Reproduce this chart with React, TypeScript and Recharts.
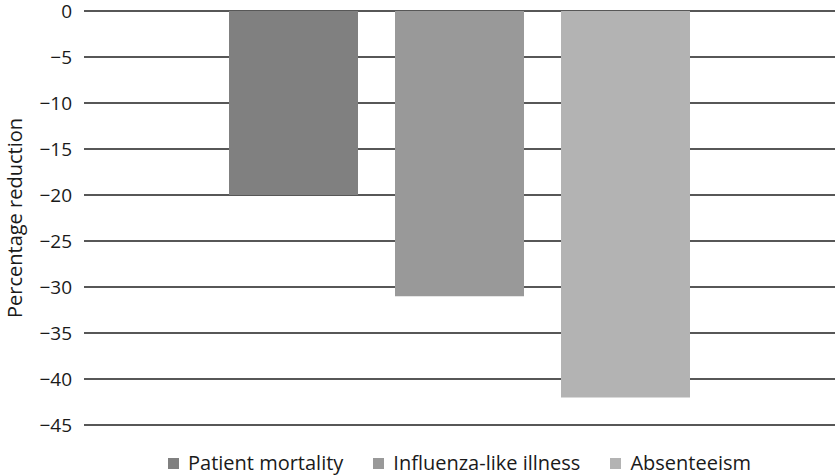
import React from 'react';
import { BarChart, Bar, XAxis, YAxis, CartesianGrid, Legend, Label } from 'recharts';

const seriesNames = ['Patient mortality', 'Influenza-like illness', 'Absenteeism'];
const seriesKeys = ['patient', 'ili', 'absent'];
const seriesValues = [-20, -31, -42];
const seriesColors = ['#808080', '#999999', '#b3b3b3'];
const yTicks = [0, -5, -10, -15, -20, -25, -30, -35, -40, -45];

const row: Record<string, any> = { name: '' };
seriesKeys.forEach((k, i) => {
  row[k] = seriesValues[i];
});
const data = [row];

const FONT = '"Open Sans", sans-serif';

const fmt = (v: number) => (v < 0 ? '\u2212' + Math.abs(v) : String(v));

const LegendContent = () => (
  <div style={{ display: 'flex', justifyContent: 'center', alignItems: 'center', fontFamily: FONT, fontSize: 20, color: '#1a1a1a', height: 27 }}>
    {seriesNames.map((n, i) => (
      <div key={n} style={{ display: 'flex', alignItems: 'center', marginRight: i < seriesNames.length - 1 ? 30 : 0 }}>
        <span style={{ display: 'inline-block', width: 11, height: 11, background: seriesColors[i], marginRight: 9, marginTop: 2 }} />
        <span style={{ lineHeight: '27px', whiteSpace: 'nowrap' }}>{n}</span>
      </div>
    ))}
  </div>
);

const YLabel = (props: any) => {
  const vb = props.viewBox || {};
  const cy = (vb.y || 0) + (vb.height || 0) / 2;
  const cx = 14;
  return (
    <text x={cx} y={cy} transform={`rotate(-90, ${cx}, ${cy})`} textAnchor="middle" dominantBaseline="central" fontFamily={FONT} fontSize={20} fill="#1a1a1a">
      Percentage reduction
    </text>
  );
};

export default function App() {
  return (
    <div style={{ position: 'absolute', left: 0, top: 0, width: 836, height: 476, background: '#fff' }}>
      <BarChart width={836} height={476} data={data} margin={{ top: 11, right: 1, left: 0, bottom: 24 }} barGap={37}>
        <CartesianGrid vertical={false} stroke="#1f1f1f" strokeWidth={1.3} />
        <XAxis dataKey="name" hide />
        <YAxis
          type="number"
          domain={[-45, 0]}
          ticks={yTicks}
          interval={0}
          width={84}
          axisLine={false}
          tickLine={false}
          tickSize={6}
          tickMargin={6}
          tickFormatter={fmt}
          tick={{ fill: '#1a1a1a', fontSize: 19, fontFamily: FONT }}
        >
          <Label content={<YLabel />} />
        </YAxis>
        <Legend
          verticalAlign="bottom"
          content={<LegendContent />}
          wrapperStyle={{ left: 84, width: 751, height: 27, top: 449, bottom: 'auto' }}
        />
        {seriesKeys.map((k, i) => (
          <Bar key={k} dataKey={k} name={seriesNames[i]} fill={seriesColors[i]} barSize={129} isAnimationActive={false} />
        ))}
      </BarChart>
    </div>
  );
}
